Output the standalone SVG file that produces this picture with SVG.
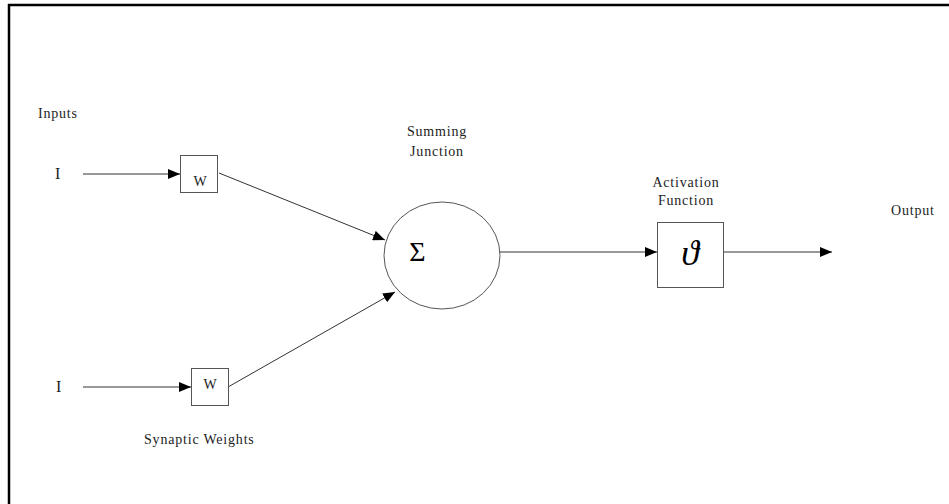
<svg xmlns="http://www.w3.org/2000/svg" width="949" height="504" viewBox="0 0 949 504">
<defs>
<marker id="arr" markerWidth="12" markerHeight="10" refX="12" refY="5" orient="auto" markerUnits="userSpaceOnUse">
<path d="M0,0 L12,5 L0,10 z" fill="#000"/>
</marker>
<style>
.t{font-family:"Liberation Serif","Times New Roman",serif;font-size:14px;letter-spacing:0.8px;fill:#222}
.box{fill:#fff;stroke:#555;stroke-width:1}
.ln{stroke:#333;stroke-width:1;fill:none}
</style>
</defs>
<rect width="949" height="504" fill="#fff"/>
<g id="frame">
<line x1="8" y1="5" x2="949" y2="5" stroke="#000" stroke-width="2.5"/>
<line x1="9" y1="4" x2="9" y2="504" stroke="#000" stroke-width="2.5"/>
</g>
<g id="connectors">
<line class="ln" x1="83" y1="174" x2="180" y2="174" marker-end="url(#arr)"/>
<line class="ln" x1="83" y1="387" x2="191" y2="387" marker-end="url(#arr)"/>
<line class="ln" x1="219" y1="173" x2="385" y2="240" marker-end="url(#arr)"/>
<line class="ln" x1="228" y1="387" x2="395" y2="292" marker-end="url(#arr)"/>
<line class="ln" x1="500" y1="252" x2="657" y2="252" marker-end="url(#arr)"/>
<line class="ln" x1="724" y1="252" x2="832" y2="252" marker-end="url(#arr)"/>
</g>
<g id="inputs-label"><text class="t" x="38" y="118">Inputs</text></g>
<g id="input1"><text class="t" x="55" y="179" style="font-size:16px;letter-spacing:0">I</text></g>
<g id="input2"><text class="t" x="56" y="392" style="font-size:16px;letter-spacing:0">I</text></g>
<g id="weight1">
<rect class="box" x="180.5" y="155.5" width="37" height="37"/>
<text class="t" x="200" y="186" text-anchor="middle" style="font-size:14px;letter-spacing:0">W</text>
</g>
<g id="weight2">
<rect class="box" x="191.5" y="368.5" width="37" height="37"/>
<text class="t" x="210" y="389" text-anchor="middle" style="font-size:14px;letter-spacing:0">W</text>
</g>
<g id="synaptic-label"><text class="t" x="144" y="444">Synaptic Weights</text></g>
<g id="summing">
<text class="t" x="437" y="136" text-anchor="middle">Summing</text>
<text class="t" x="437" y="156" text-anchor="middle">Junction</text>
<ellipse cx="442" cy="255.5" rx="58" ry="53.5" fill="#fff" stroke="#555" stroke-width="1"/>
<text x="417.5" y="261" text-anchor="middle" style="font-family:'Liberation Serif',serif;font-size:28px;fill:#000">Σ</text>
</g>
<g id="activation">
<text class="t" x="686" y="187" text-anchor="middle">Activation</text>
<text class="t" x="686" y="205" text-anchor="middle">Function</text>
<rect class="box" x="657.5" y="222.5" width="66" height="65"/>
<text x="690" y="265" text-anchor="middle" style="font-family:'Liberation Serif','DejaVu Serif',serif;font-size:36px;font-style:italic;fill:#000">ϑ</text>
</g>
<g id="output"><text class="t" x="891" y="215">Output</text></g>
</svg>
